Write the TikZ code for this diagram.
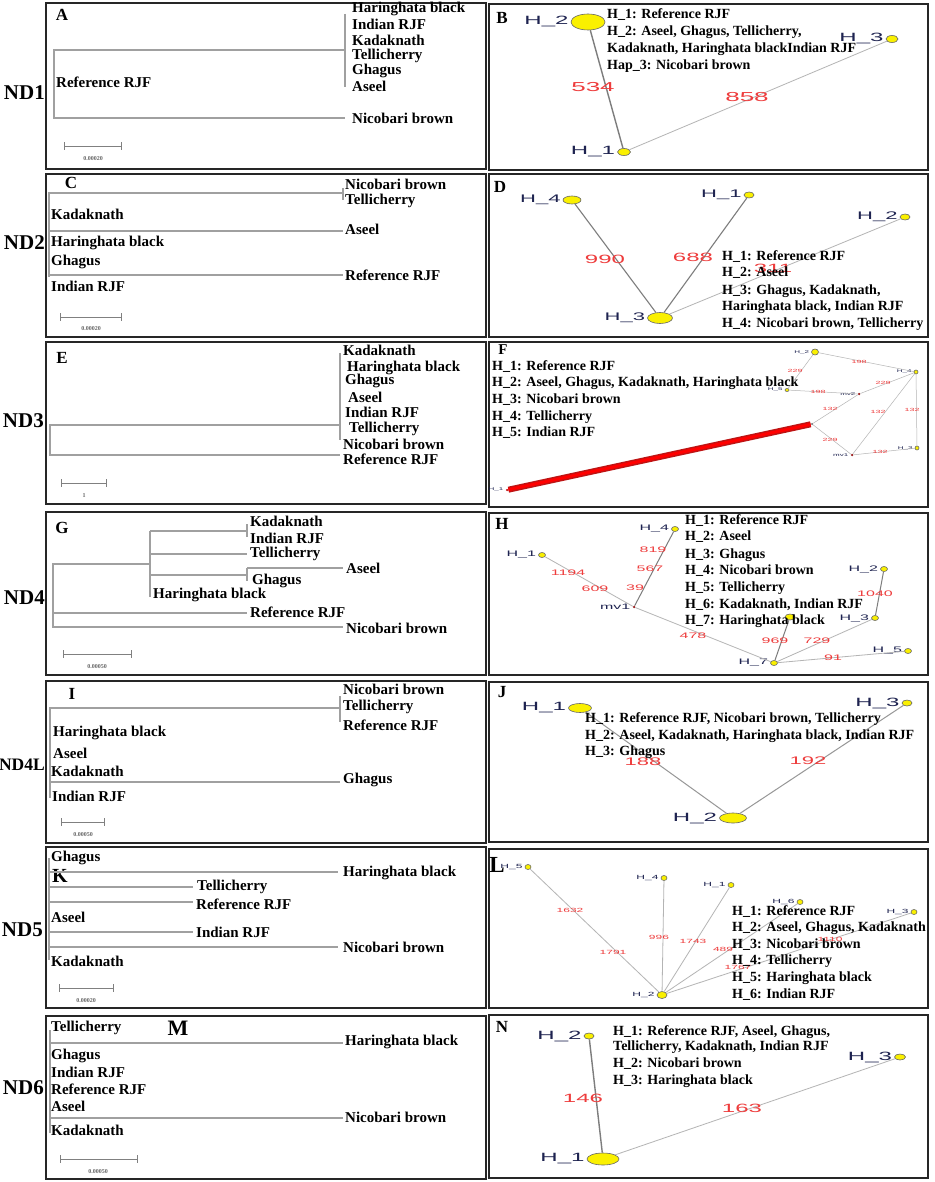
\documentclass[tikz,border=0pt]{standalone}
\usepackage{fontspec}
\setmainfont{Liberation Serif}
\newfontfamily\netfont[FakeStretch=2.0]{Liberation Sans}
\usetikzlibrary{shapes.geometric}
\definecolor{treegray}{RGB}{160,160,160}
\definecolor{edgedark}{RGB}{125,125,125}
\definecolor{edgelight}{RGB}{180,180,180}
\definecolor{labred}{RGB}{238,60,60}
\definecolor{hapyellow}{RGB}{250,240,0}
\definecolor{hapnavy}{RGB}{30,35,80}
\definecolor{mvred}{RGB}{150,20,20}
\definecolor{barred}{RGB}{190,20,20}
\newcommand\fs[1]{\fontsize{#1}{#1}\selectfont}
\tikzset{
  panel/.style={draw=black!85, line width=1.4pt},
  tree/.style={draw=treegray, line width=1.1pt},
  tl/.style={anchor=west, inner sep=0pt, font=\bfseries\fs{15}},
  nd/.style={anchor=east, inner sep=0pt, font=\bfseries\fs{21}},
  plet/.style={inner sep=0pt, font=\bfseries\fs{17}},
  leg/.style={anchor=west, inner sep=0pt, font=\bfseries\fs{14}},
  sbar/.style={draw=gray, line width=0.8pt, |-|},
  sblab/.style={inner sep=0pt, font=\bfseries\fs{6}, text=gray!80!black},
  hap/.style={ellipse, draw=black!60, fill=hapyellow, inner sep=0pt, line width=0.6pt},
  mv/.style={circle, fill=mvred, inner sep=0pt, minimum size=2.5pt},
  hl/.style={inner sep=0pt, text=hapnavy},
  el/.style={inner sep=0pt, text=labred},
  ed/.style={draw=edgedark, line width=1.4pt},
  eL/.style={draw=edgelight, line width=0.8pt},
}
\begin{document}
\begin{tikzpicture}[x=1pt, y=-1pt, label distance=2pt]
\useasboundingbox (0,0) rectangle (934,1182);
\fill[white] (0,0) rectangle (934,1182);

% ---------------- frames ----------------
\draw[panel] (46,3) rectangle (486,169);
\draw[panel] (46,174) rectangle (486,337);
\draw[panel] (46,342) rectangle (486,504);
\draw[panel] (46,512) rectangle (486,675);
\draw[panel] (46,681) rectangle (486,843);
\draw[panel] (46,847) rectangle (486,1008);
\draw[panel] (46,1016) rectangle (486,1179);
\draw[panel] (489,4) rectangle (928,170);
\draw[panel] (489,174) rectangle (928,337);
\draw[panel] (489,342) rectangle (928,507);
\draw[panel] (489,513) rectangle (928,675);
\draw[panel] (489,682) rectangle (928,842);
\draw[panel] (489,849) rectangle (928,1008);
\draw[panel] (489,1015) rectangle (928,1178);

% ---------------- row labels ----------------
\node[nd] (nd1) at (45,93) {ND1};
\node[nd] (nd2) at (45,243) {ND2};
\node[nd] (nd3) at (44,421) {ND3};
\node[nd] (nd4) at (45,598) {ND4};
\node[nd, font=\bfseries\fs{17.5}] (nd4l) at (45,765) {ND4L};
\node[nd] (nd5) at (43,930) {ND5};
\node[nd] (nd6) at (44,1088) {ND6};

% ---------------- A ----------------
\node[plet] (pA) at (62,15) {A};
\draw[tree] (345,50) -- (54,50) -- (54,118) -- (345,118);
\draw[tree] (345,14) -- (345,87);
\node[tl] (a1) at (352,9) {Haringhata black};
\node[tl] (a2) at (352,24) {Indian RJF};
\node[tl] (a3) at (352,40) {Kadaknath};
\node[tl] (a4) at (352,56) {Tellicherry};
\node[tl] (a5) at (352,71) {Ghagus};
\node[tl] (a6) at (352,86) {Aseel};
\node[tl] (a7) at (352,118) {Nicobari brown};
\node[tl] (a8) at (56,82) {Reference RJF};
\draw[sbar] (64,146) -- (122,146);
\node[sblab] (sA) at (93,159) {0.00020};

% ---------------- C ----------------
\node[plet] (pC) at (71,183) {C};
\draw[tree] (343,193) -- (49,193) -- (49,277);
\draw[tree] (49,231) -- (343,231);
\draw[tree] (49,275) -- (343,275);
\draw[tree] (343,188) -- (343,200);
\node[tl] (c1) at (345,184) {Nicobari brown};
\node[tl] (c2) at (345,201) {Tellicherry};
\node[tl] (c3) at (345,229) {Aseel};
\node[tl] (c4) at (345,275) {Reference RJF};
\node[tl] (c5) at (51,214) {Kadaknath};
\node[tl] (c6) at (51,243) {Haringhata black};
\node[tl] (c7) at (51,262) {Ghagus};
\node[tl] (c8) at (51,286) {Indian RJF};
\draw[sbar] (60,317) -- (122,317);
\node[sblab] (sC) at (91,329) {0.00020};

% ---------------- E ----------------
\node[plet] (pE) at (62,358) {E};
\draw[tree] (340,425) -- (50,425) -- (50,455) -- (340,455);
\draw[tree] (340,353) -- (340,440);
\node[tl] (e1) at (343,350) {Kadaknath};
\node[tl] (e2) at (347,368) {Haringhata black};
\node[tl] (e3) at (345,381) {Ghagus};
\node[tl] (e4) at (348,397) {Aseel};
\node[tl] (e5) at (345,412) {Indian RJF};
\node[tl] (e6) at (349,429) {Tellicherry};
\node[tl] (e7) at (343,444) {Nicobari brown};
\node[tl] (e8) at (343,459) {Reference RJF};
\draw[sbar] (61,483) -- (107,483);
\node[sblab] (sE) at (84,496) {1};

% ---------------- G ----------------
\node[plet] (pG) at (62,528) {G};
\draw[tree] (150,564) -- (53,564) -- (53,627) -- (343,627);
\draw[tree] (53,613) -- (247,613);
\draw[tree] (150,531) -- (150,597);
\draw[tree] (150,531) -- (247,531);
\draw[tree] (247,524) -- (247,537);
\draw[tree] (150,554) -- (247,554);
\draw[tree] (150,575) -- (247,575);
\draw[tree] (247,568) -- (247,581);
\draw[tree] (247,568) -- (343,568);
\node[tl] (g1) at (250,521) {Kadaknath};
\node[tl] (g2) at (250,538) {Indian RJF};
\node[tl] (g3) at (250,554) {Tellicherry};
\node[tl] (g4) at (252,581) {Ghagus};
\node[tl] (g5) at (346,568) {Aseel};
\node[tl] (g6) at (153,595) {Haringhata black};
\node[tl] (g7) at (250,612) {Reference RJF};
\node[tl] (g8) at (346,628) {Nicobari brown};
\draw[sbar] (63,654) -- (132,654);
\node[sblab] (sG) at (97,667) {0.00050};

% ---------------- I ----------------
\node[plet] (pI) at (72,694) {I};
\draw[tree] (340,708) -- (50,708) -- (50,798);
\draw[tree] (50,782) -- (340,782);
\draw[tree] (340,696) -- (340,722);
\node[tl] (i1) at (343,689) {Nicobari brown};
\node[tl] (i2) at (343,707) {Tellicherry};
\node[tl] (i3) at (343,725) {Reference RJF};
\node[tl] (i4) at (343,780) {Ghagus};
\node[tl] (i5) at (53,733) {Haringhata black};
\node[tl] (i6) at (53,753) {Aseel};
\node[tl] (i7) at (51,771) {Kadaknath};
\node[tl] (i8) at (52,796) {Indian RJF};
\draw[sbar] (61,822) -- (105,822);
\node[sblab] (sI) at (83,835) {0.00050};

% ---------------- K ----------------
\node[plet, font=\bfseries\fs{20}] (pK) at (60,876) {K};
\draw[tree] (49,858) -- (49,960);
\draw[tree] (49,872) -- (338,872);
\draw[tree] (49,887) -- (193,887);
\draw[tree] (49,902) -- (193,902);
\draw[tree] (49,932) -- (193,932);
\draw[tree] (49,947) -- (338,947);
\node[tl] (k1) at (51,858) {Ghagus};
\node[tl] (k2) at (51,917) {Aseel};
\node[tl] (k3) at (51,961) {Kadaknath};
\node[tl] (k4) at (343,873) {Haringhata black};
\node[tl] (k5) at (197,887) {Tellicherry};
\node[tl] (k6) at (196,904) {Reference RJF};
\node[tl] (k7) at (196,932) {Indian RJF};
\node[tl] (k8) at (343,947) {Nicobari brown};
\draw[sbar] (59,988) -- (114,988);
\node[sblab] (sK) at (86,1001) {0.00020};

% ---------------- M ----------------
\node[plet, font=\bfseries\fs{22}] (pM) at (178,1028) {M};
\draw[tree] (50,1030) -- (50,1133);
\draw[tree] (50,1043) -- (343,1043);
\draw[tree] (50,1118) -- (343,1118);
\node[tl] (m1) at (51,1028) {Tellicherry};
\node[tl] (m2) at (51,1056) {Ghagus};
\node[tl] (m3) at (51,1072) {Indian RJF};
\node[tl] (m4) at (51,1089) {Reference RJF};
\node[tl] (m5) at (51,1106) {Aseel};
\node[tl] (m6) at (51,1130) {Kadaknath};
\node[tl] (m7) at (345,1042) {Haringhata black};
\node[tl] (m8) at (345,1117) {Nicobari brown};
\draw[sbar] (60,1159) -- (138,1159);
\node[sblab] (sM) at (98,1172) {0.00050};

% ---------------- B ----------------
\node[plet] (pB) at (502,18) {B};
\node[hap, minimum width=34pt, minimum height=16pt, label={[hl,font=\netfont\fs{12}]left:H\_2}] (b2) at (588,22) {};
\node[hap, minimum width=13pt, minimum height=7pt, label={[hl,font=\netfont\fs{12}]left:H\_1}] (b1) at (624,152) {};
\node[hap, minimum width=12pt, minimum height=7pt, label={[hl,font=\netfont\fs{12}]left:H\_3}] (b3) at (892,39) {};
\draw[ed] (b2) -- (b1);
\draw[eL] (b1) -- (b3);
\node[el, font=\netfont\fs{13}] (bl1) at (593,87) {534};
\node[el, font=\netfont\fs{13}] (bl2) at (747,97) {858};
\node[leg] (bg1) at (607,15) {H\_1: Reference RJF};
\node[leg] (bg2) at (607,32) {H\_2: Aseel, Ghagus, Tellicherry,};
\node[leg] (bg3) at (607,49) {Kadaknath, Haringhata blackIndian RJF};
\node[leg] (bg4) at (607,66) {Hap\_3: Nicobari brown};

% ---------------- D ----------------
\node[plet] (pD) at (500,187) {D};
\node[hap, minimum width=18pt, minimum height=8pt, label={[hl,font=\netfont\fs{11}]left:H\_4}] (d4) at (572,200) {};
\node[hap, minimum width=10pt, minimum height=6pt, label={[hl,font=\netfont\fs{11}]left:H\_1}] (d1) at (749,195) {};
\node[hap, minimum width=10pt, minimum height=6pt, label={[hl,font=\netfont\fs{11}]left:H\_2}] (d2) at (905,217) {};
\node[hap, minimum width=25pt, minimum height=11pt, label={[hl,font=\netfont\fs{11}]left:H\_3}] (d3) at (660,318) {};
\draw[ed, line width=1.1pt] (d4) -- (d3);
\draw[ed, line width=1.1pt] (d1) -- (d3);
\draw[eL] (d2) -- (d3);
\node[el, font=\netfont\fs{12}] (dl1) at (605,259) {990};
\node[el, font=\netfont\fs{12}] (dl2) at (693,257) {688};
\node[el, font=\netfont\fs{12}] (dl3) at (773,268) {311};
\node[leg] (dg1) at (722,257) {H\_1: Reference RJF};
\node[leg] (dg2) at (722,273) {H\_2: Aseel};
\node[leg] (dg3) at (722,291) {H\_3: Ghagus, Kadaknath,};
\node[leg] (dg4) at (722,307) {Haringhata black, Indian RJF};
\node[leg] (dg5) at (722,324) {H\_4: Nicobari brown, Tellicherry};

% ---------------- F ----------------
\node[plet, font=\bfseries\fs{15}] (pF) at (503,350) {F};
\node[hap, minimum width=7pt, minimum height=6pt, label={[hl,font=\netfont\fs{4}]left:H\_2}] (f2) at (815,352) {};
\node[hap, minimum width=4pt, minimum height=4pt, label={[hl,font=\netfont\fs{4}]left:H\_4}] (f4) at (916,372) {};
\node[hap, minimum width=4pt, minimum height=3pt, label={[hl,font=\netfont\fs{4}]left:H\_5}] (f5) at (787,390) {};
\node[hap, minimum width=4pt, minimum height=4pt, label={[hl,font=\netfont\fs{4}]left:H\_3}] (f3) at (917,448) {};
\node[mv, label={[hl,font=\netfont\fs{4}]left:mv2}] (fm2) at (859,394) {};
\node[mv, label={[hl,font=\netfont\fs{4}]left:mv1}] (fm1) at (852,455) {};
\node[mv, fill=gray] (fj) at (812,424) {};
\node[mv, fill=barred, label={[hl,font=\netfont\fs{4}]left:H\_1}] (f1) at (507,490) {};
\draw[eL, line width=0.5pt] (f2) -- (f4);
\draw[eL, line width=0.5pt] (f2) -- (f5);
\draw[eL, line width=0.5pt] (f5) -- (fm2);
\draw[eL, line width=0.5pt] (fm2) -- (f4);
\draw[eL, line width=0.5pt] (fm2) -- (fj);
\draw[eL, line width=0.5pt] (fj) -- (fm1);
\draw[eL, line width=0.5pt] (fm1) -- (f4);
\draw[eL, line width=0.5pt] (f4) -- (f3);
\draw[eL, line width=0.5pt] (fm1) -- (f3);
\draw[draw=barred, line width=6pt] (f1) -- (fj);
\draw[draw=red, line width=3pt] (f1) -- (fj);
\node[el, font=\netfont\fs{4.5}] (fl1) at (859,362) {198};
\node[el, font=\netfont\fs{4.5}] (fl2) at (795,371) {229};
\node[el, font=\netfont\fs{4.5}] (fl3) at (818,392) {198};
\node[el, font=\netfont\fs{4.5}] (fl4) at (883,383) {229};
\node[el, font=\netfont\fs{4.5}] (fl5) at (830,409) {132};
\node[el, font=\netfont\fs{4.5}] (fl6) at (830,440) {229};
\node[el, font=\netfont\fs{4.5}] (fl7) at (878,412) {132};
\node[el, font=\netfont\fs{4.5}] (fl8) at (912,410) {132};
\node[el, font=\netfont\fs{4.5}] (fl9) at (880,452) {132};
\node[leg] (fg1) at (492,367) {H\_1: Reference RJF};
\node[leg] (fg2) at (492,383) {H\_2: Aseel, Ghagus, Kadaknath, Haringhata black};
\node[leg] (fg3) at (492,400) {H\_3: Nicobari brown};
\node[leg] (fg4) at (492,417) {H\_4: Tellicherry};
\node[leg] (fg5) at (492,433) {H\_5: Indian RJF};

% ---------------- H ----------------
\node[plet] (pH) at (502,524) {H};
\node[hap, minimum width=7pt, minimum height=5pt, label={[hl,font=\netfont\fs{8}]left:H\_4}] (h4) at (675,529) {};
\node[hap, minimum width=7pt, minimum height=5pt, label={[hl,font=\netfont\fs{8}]left:H\_1}] (h1) at (542,555) {};
\node[mv, label={[hl,font=\netfont\fs{8}]left:mv1}] (hm1) at (634,607) {};
\node[hap, minimum width=7pt, minimum height=5pt, label={[hl,font=\netfont\fs{8}]left:H\_2}] (h2) at (884,569) {};
\node[hap, minimum width=7pt, minimum height=5pt, label={[hl,font=\netfont\fs{8}]left:H\_3}] (h3) at (875,618) {};
\node[hap, minimum width=10pt, minimum height=6pt] (h6) at (790,617) {};
\node[hap, minimum width=7pt, minimum height=5pt, label={[hl,font=\netfont\fs{8}]left:H\_7}] (h7) at (774,663) {};
\node[hap, minimum width=7pt, minimum height=5pt, label={[hl,font=\netfont\fs{8}]left:H\_5}] (h5) at (908,651) {};
\draw[eL] (h1) -- (hm1);
\draw[ed, line width=1pt] (hm1) -- (h4);
\draw[eL] (hm1) -- (h7);
\draw[ed, line width=1pt] (h7) -- (h6);
\draw[eL] (h7) -- (h3);
\draw[ed, line width=1pt] (h3) -- (h2);
\draw[eL] (h7) -- (h5);
\node[el, font=\netfont\fs{8}] (hl1) at (568,573) {1194};
\node[el, font=\netfont\fs{8}] (hl2) at (595,589) {609};
\node[el, font=\netfont\fs{8}] (hl3) at (653,550) {819};
\node[el, font=\netfont\fs{8}] (hl4) at (650,569) {567};
\node[el, font=\netfont\fs{8}] (hl5) at (635,588) {39};
\node[el, font=\netfont\fs{8}] (hl6) at (693,636) {478};
\node[el, font=\netfont\fs{8}] (hl7) at (875,594) {1040};
\node[el, font=\netfont\fs{8}] (hl8) at (775,641) {969};
\node[el, font=\netfont\fs{8}] (hl9) at (817,641) {729};
\node[el, font=\netfont\fs{8}] (hl10) at (833,658) {91};
\node[leg] (hg1) at (685,521) {H\_1: Reference RJF};
\node[leg] (hg2) at (685,537) {H\_2: Aseel};
\node[leg] (hg3) at (685,555) {H\_3: Ghagus};
\node[leg] (hg4) at (685,571) {H\_4: Nicobari brown};
\node[leg] (hg5) at (685,588) {H\_5: Tellicherry};
\node[leg] (hg6) at (685,605) {H\_6: Kadaknath, Indian RJF};
\node[leg] (hg7) at (685,621) {H\_7: Haringhata black};

% ---------------- J ----------------
\node[plet] (pJ) at (502,692) {J};
\node[hap, minimum width=23pt, minimum height=9pt, label={[hl,font=\netfont\fs{12}]left:H\_1}] (j1) at (580,708) {};
\node[hap, minimum width=10pt, minimum height=6pt, label={[hl,font=\netfont\fs{12}]left:H\_3}] (j3) at (907,703) {};
\node[hap, minimum width=27pt, minimum height=10pt, label={[hl,font=\netfont\fs{12}]left:H\_2}] (j2) at (733,818) {};
\draw[eL, line width=1pt, draw=edgedark!80] (j1) -- (j2);
\draw[eL, line width=1pt, draw=edgedark!80] (j3) -- (j2);
\node[el, font=\netfont\fs{11}] (jl1) at (643,762) {188};
\node[el, font=\netfont\fs{11}] (jl2) at (808,761) {192};
\node[leg] (jg1) at (585,719) {H\_1: Reference RJF, Nicobari brown, Tellicherry};
\node[leg] (jg2) at (585,736) {H\_2: Aseel, Kadaknath, Haringhata black, Indian RJF};
\node[leg] (jg3) at (585,752) {H\_3: Ghagus};

% ---------------- L ----------------
\node[plet, font=\bfseries\fs{23}] (pL) at (497,865) {L};
\node[hap, minimum width=6pt, minimum height=5pt, label={[hl,font=\netfont\fs{6}]left:H\_5}] (l5) at (528,867) {};
\node[hap, minimum width=6pt, minimum height=5pt, label={[hl,font=\netfont\fs{6}]left:H\_4}] (l4) at (664,878) {};
\node[hap, minimum width=6pt, minimum height=5pt, label={[hl,font=\netfont\fs{6}]left:H\_1}] (l1) at (731,885) {};
\node[hap, minimum width=6pt, minimum height=5pt, label={[hl,font=\netfont\fs{6}]left:H\_6}] (l6) at (800,902) {};
\node[hap, minimum width=6pt, minimum height=5pt, label={[hl,font=\netfont\fs{6}]left:H\_3}] (l3) at (914,912) {};
\node[hap, minimum width=10pt, minimum height=7pt, label={[hl,font=\netfont\fs{6}]left:H\_2}] (l2) at (662,995) {};
\draw[eL] (l2) -- (l5);
\draw[eL] (l2) -- (l4);
\draw[eL] (l2) -- (l1);
\draw[eL] (l2) -- (l6);
\draw[eL] (l2) -- (l3);
\node[el, font=\netfont\fs{6}] (ll1) at (570,910) {1632};
\node[el, font=\netfont\fs{6}] (ll2) at (613,952) {1791};
\node[el, font=\netfont\fs{6}] (ll3) at (659,937) {996};
\node[el, font=\netfont\fs{6}] (ll4) at (693,941) {1743};
\node[el, font=\netfont\fs{6}] (ll5) at (723,949) {489};
\node[el, font=\netfont\fs{6}] (ll6) at (738,967) {1767};
\node[el, font=\netfont\fs{6}] (ll7) at (830,939) {1110};
\node[leg] (lg1) at (732,912) {H\_1: Reference RJF};
\node[leg] (lg2) at (732,928) {H\_2: Aseel, Ghagus, Kadaknath};
\node[leg] (lg3) at (732,945) {H\_3: Nicobari brown};
\node[leg] (lg4) at (732,961) {H\_4: Tellicherry};
\node[leg] (lg5) at (732,978) {H\_5: Haringhata black};
\node[leg] (lg6) at (732,995) {H\_6: Indian RJF};

% ---------------- N ----------------
\node[plet] (pN) at (502,1027) {N};
\node[hap, minimum width=10pt, minimum height=6pt, label={[hl,font=\netfont\fs{12}]left:H\_2}] (n2) at (589,1036) {};
\node[hap, minimum width=11pt, minimum height=6pt, label={[hl,font=\netfont\fs{12}]left:H\_3}] (n3) at (900,1057) {};
\node[hap, minimum width=32pt, minimum height=12pt, label={[hl,font=\netfont\fs{12}]left:H\_1}] (n1) at (603,1159) {};
\draw[ed] (n2) -- (n1);
\draw[eL] (n1) -- (n3);
\node[el, font=\netfont\fs{12}] (nl1) at (583,1098) {146};
\node[el, font=\netfont\fs{12}] (nl2) at (742,1108) {163};
\node[leg] (ng1) at (613,1032) {H\_1: Reference RJF, Aseel, Ghagus,};
\node[leg] (ng2) at (613,1047) {Tellicherry, Kadaknath, Indian RJF};
\node[leg] (ng3) at (613,1064) {H\_2: Nicobari brown};
\node[leg] (ng4) at (613,1081) {H\_3: Haringhata black};
\end{tikzpicture}
\end{document}
